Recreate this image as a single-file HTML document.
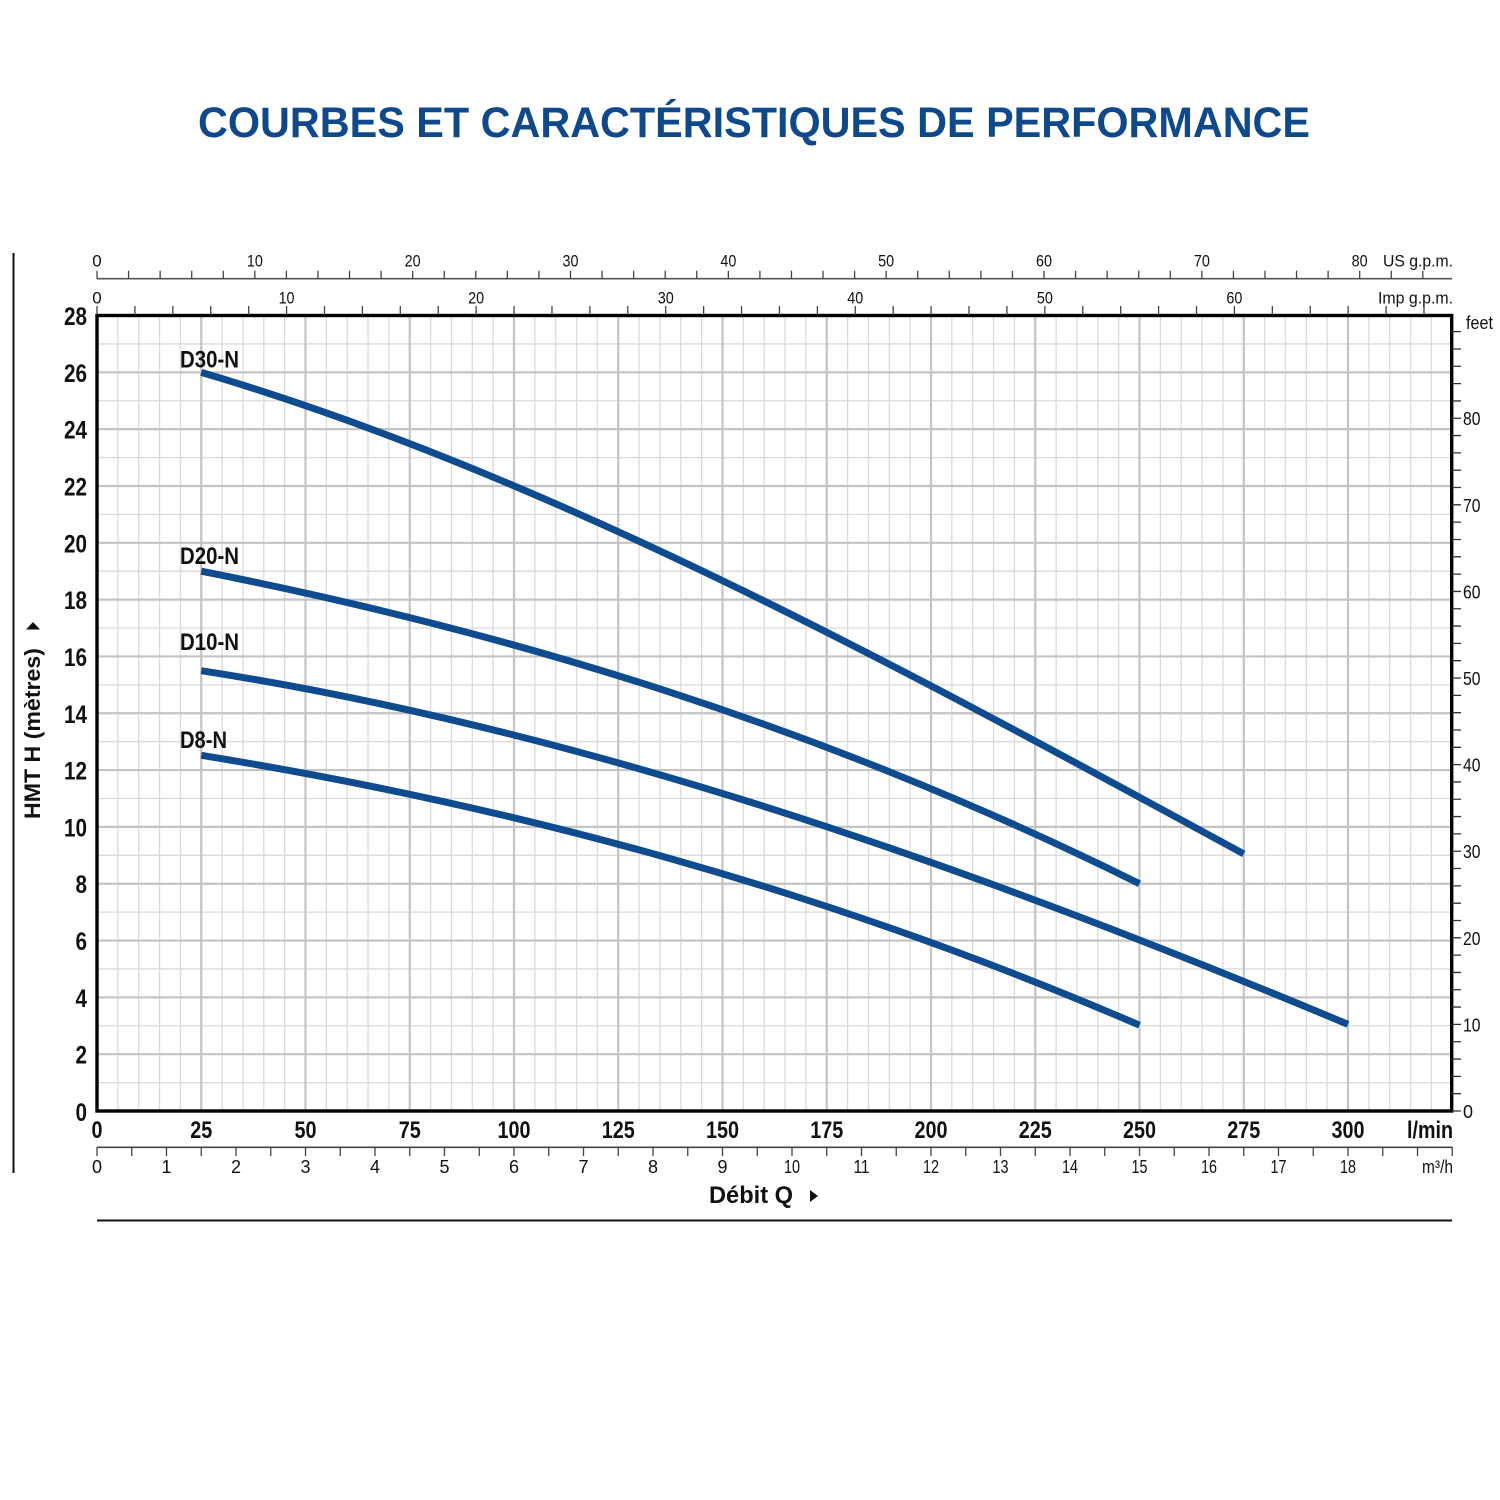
<!DOCTYPE html>
<html><head><meta charset="utf-8"><style>
html,body{margin:0;padding:0;background:#fff;}
svg{display:block;}
text{font-family:"Liberation Sans",sans-serif;}
</style></head><body>
<svg width="1500" height="1500" viewBox="0 0 1500 1500" xmlns="http://www.w3.org/2000/svg">
<rect width="1500" height="1500" fill="#fff"/>
<text x="198" y="137" font-size="43" font-weight="bold" fill="#10498b" textLength="1112" lengthAdjust="spacingAndGlyphs">COURBES ET CARACTÉRISTIQUES DE PERFORMANCE</text>

<line x1="13.5" y1="253" x2="13.5" y2="1173" stroke="#111" stroke-width="2"/>

<!-- minor grid -->
<path fill="none" stroke="#dadada" stroke-width="1.3" d="
M117.85 316V1110M138.7 316V1110M159.55 316V1110M180.4 316V1110
M222.1 316V1110M242.95 316V1110M263.8 316V1110M284.65 316V1110
M326.35 316V1110M347.2 316V1110M368.05 316V1110M388.9 316V1110
M430.6 316V1110M451.45 316V1110M472.3 316V1110M493.15 316V1110
M534.85 316V1110M555.7 316V1110M576.55 316V1110M597.4 316V1110
M639.1 316V1110M659.95 316V1110M680.8 316V1110M701.65 316V1110
M743.35 316V1110M764.2 316V1110M785.05 316V1110M805.9 316V1110
M847.6 316V1110M868.45 316V1110M889.3 316V1110M910.15 316V1110
M951.85 316V1110M972.7 316V1110M993.55 316V1110M1014.4 316V1110
M1056.1 316V1110M1076.95 316V1110M1097.8 316V1110M1118.65 316V1110
M1160.35 316V1110M1181.2 316V1110M1202.05 316V1110M1222.9 316V1110
M1264.6 316V1110M1285.45 316V1110M1306.3 316V1110M1327.15 316V1110
M1368.85 316V1110M1389.7 316V1110M1410.55 316V1110M1431.4 316V1110
M98 1082.59H1451M98 1025.77H1451M98 968.95H1451M98 912.13H1451M98 855.31H1451
M98 798.49H1451M98 741.67H1451M98 684.85H1451M98 628.03H1451M98 571.21H1451
M98 514.39H1451M98 457.57H1451M98 400.75H1451M98 343.93H1451"/>
<!-- major grid -->
<path fill="none" stroke="#c4c4c4" stroke-width="2.2" d="
M201.25 316V1110M305.5 316V1110M409.75 316V1110M514 316V1110M618.25 316V1110
M722.5 316V1110M826.75 316V1110M931 316V1110M1035.25 316V1110M1139.5 316V1110
M1243.75 316V1110M1348 316V1110
M98 1054.18H1451M98 997.36H1451M98 940.54H1451M98 883.72H1451M98 826.9H1451
M98 770.08H1451M98 713.26H1451M98 656.44H1451M98 599.62H1451M98 542.8H1451
M98 485.98H1451M98 429.16H1451M98 372.34H1451"/>

<!-- frame -->
<rect x="97" y="315.5" width="1354.7" height="795.5" fill="none" stroke="#000" stroke-width="3.4"/>

<!-- curves -->
<g fill="none" stroke="#0f4b8f" stroke-width="7">
<path d="M201.25 372.34 C548.75 474.9 896.25 664.82 1243.75 853.89"/>
<path d="M201.25 571.21 C514 632.77 826.75 728.4 1139.5 883.72"/>
<path d="M201.25 670.65 C583.5 730.22 965.75 864.2 1348 1024.35"/>
<path d="M201.25 755.31 C514 806.08 826.75 890.06 1139.5 1025.2"/>
</g>
<g font-size="24" font-weight="bold" fill="#111">
<text x="180" y="367.5" textLength="59" lengthAdjust="spacingAndGlyphs">D30-N</text>
<text x="180" y="564" textLength="59" lengthAdjust="spacingAndGlyphs">D20-N</text>
<text x="180" y="650" textLength="59" lengthAdjust="spacingAndGlyphs">D10-N</text>
<text x="180" y="748" textLength="47" lengthAdjust="spacingAndGlyphs">D8-N</text>
</g>

<!-- left y labels -->
<g font-size="25" font-weight="bold" fill="#111" text-anchor="end">
<text x="87" y="1121" textLength="11.5" lengthAdjust="spacingAndGlyphs">0</text>
<text x="87" y="1063.7" textLength="11.5" lengthAdjust="spacingAndGlyphs">2</text>
<text x="87" y="1006.9" textLength="11.5" lengthAdjust="spacingAndGlyphs">4</text>
<text x="87" y="950" textLength="11.5" lengthAdjust="spacingAndGlyphs">6</text>
<text x="87" y="893.2" textLength="11.5" lengthAdjust="spacingAndGlyphs">8</text>
<text x="87" y="836.4" textLength="23" lengthAdjust="spacingAndGlyphs">10</text>
<text x="87" y="779.6" textLength="23" lengthAdjust="spacingAndGlyphs">12</text>
<text x="87" y="722.8" textLength="23" lengthAdjust="spacingAndGlyphs">14</text>
<text x="87" y="665.9" textLength="23" lengthAdjust="spacingAndGlyphs">16</text>
<text x="87" y="609.1" textLength="23" lengthAdjust="spacingAndGlyphs">18</text>
<text x="87" y="552.3" textLength="23" lengthAdjust="spacingAndGlyphs">20</text>
<text x="87" y="495.5" textLength="23" lengthAdjust="spacingAndGlyphs">22</text>
<text x="87" y="438.7" textLength="23" lengthAdjust="spacingAndGlyphs">24</text>
<text x="87" y="381.8" textLength="23" lengthAdjust="spacingAndGlyphs">26</text>
<text x="87" y="325" textLength="23" lengthAdjust="spacingAndGlyphs">28</text>
</g>
<text transform="translate(40,733.5) rotate(-90)" x="0" y="0" text-anchor="middle" font-size="22" font-weight="bold" fill="#111" textLength="171" lengthAdjust="spacingAndGlyphs">HMT H (mètres)</text>
<polygon points="26,629.5 40,629.5 33,622" fill="#111"/>

<!-- bottom l/min labels -->
<g font-size="24" font-weight="bold" fill="#111" text-anchor="middle">
<text x="97" y="1138" textLength="11" lengthAdjust="spacingAndGlyphs">0</text>
<text x="201.25" y="1138" textLength="22" lengthAdjust="spacingAndGlyphs">25</text>
<text x="305.5" y="1138" textLength="22" lengthAdjust="spacingAndGlyphs">50</text>
<text x="409.75" y="1138" textLength="22" lengthAdjust="spacingAndGlyphs">75</text>
<text x="514" y="1138" textLength="33" lengthAdjust="spacingAndGlyphs">100</text>
<text x="618.25" y="1138" textLength="33" lengthAdjust="spacingAndGlyphs">125</text>
<text x="722.5" y="1138" textLength="33" lengthAdjust="spacingAndGlyphs">150</text>
<text x="826.75" y="1138" textLength="33" lengthAdjust="spacingAndGlyphs">175</text>
<text x="931" y="1138" textLength="33" lengthAdjust="spacingAndGlyphs">200</text>
<text x="1035.25" y="1138" textLength="33" lengthAdjust="spacingAndGlyphs">225</text>
<text x="1139.5" y="1138" textLength="33" lengthAdjust="spacingAndGlyphs">250</text>
<text x="1243.75" y="1138" textLength="33" lengthAdjust="spacingAndGlyphs">275</text>
<text x="1348" y="1138" textLength="33" lengthAdjust="spacingAndGlyphs">300</text>
<text x="1430" y="1138" textLength="46" lengthAdjust="spacingAndGlyphs">l/min</text>
</g>

<!-- m3/h axis -->
<line x1="97" y1="1147.3" x2="1452.5" y2="1147.3" stroke="#444" stroke-width="1.6"/>
<line x1="96.35" y1="1151.5" x2="1453" y2="1151.5" stroke="#444" stroke-width="9" stroke-dasharray="1.3 33.45"/>
<g font-size="18" fill="#111" text-anchor="middle">
<text x="97" y="1173">0</text><text x="166.5" y="1173">1</text><text x="236" y="1173">2</text>
<text x="305.5" y="1173">3</text><text x="375" y="1173">4</text><text x="444.5" y="1173">5</text>
<text x="514" y="1173">6</text><text x="583.5" y="1173">7</text><text x="653" y="1173">8</text>
<text x="722.5" y="1173">9</text>
<text x="792" y="1173" textLength="16" lengthAdjust="spacingAndGlyphs">10</text>
<text x="861.5" y="1173" textLength="16" lengthAdjust="spacingAndGlyphs">11</text>
<text x="931" y="1173" textLength="16" lengthAdjust="spacingAndGlyphs">12</text>
<text x="1000.5" y="1173" textLength="16" lengthAdjust="spacingAndGlyphs">13</text>
<text x="1070" y="1173" textLength="16" lengthAdjust="spacingAndGlyphs">14</text>
<text x="1139.5" y="1173" textLength="16" lengthAdjust="spacingAndGlyphs">15</text>
<text x="1209" y="1173" textLength="16" lengthAdjust="spacingAndGlyphs">16</text>
<text x="1278.5" y="1173" textLength="16" lengthAdjust="spacingAndGlyphs">17</text>
<text x="1348" y="1173" textLength="16" lengthAdjust="spacingAndGlyphs">18</text>
<text x="1437.5" y="1173" textLength="31" lengthAdjust="spacingAndGlyphs">m³/h</text>
</g>

<text x="709" y="1203" font-size="24" font-weight="bold" fill="#111" textLength="84" lengthAdjust="spacingAndGlyphs">Débit Q</text>
<polygon points="810,1190 810,1202 818,1196" fill="#111"/>
<line x1="97" y1="1220.5" x2="1452" y2="1220.5" stroke="#111" stroke-width="2"/>

<!-- top US gpm axis -->
<line x1="97" y1="278.7" x2="1452" y2="278.7" stroke="#555" stroke-width="1.6"/>
<line x1="96.35" y1="274.7" x2="1424" y2="274.7" stroke="#444" stroke-width="8" stroke-dasharray="1.3 30.267"/>
<g font-size="17" fill="#111" text-anchor="middle">
<text x="97" y="266.7">0</text>
<text x="254.84" y="266.7" textLength="16" lengthAdjust="spacingAndGlyphs">10</text>
<text x="412.67" y="266.7" textLength="16" lengthAdjust="spacingAndGlyphs">20</text>
<text x="570.51" y="266.7" textLength="16" lengthAdjust="spacingAndGlyphs">30</text>
<text x="728.34" y="266.7" textLength="16" lengthAdjust="spacingAndGlyphs">40</text>
<text x="886.18" y="266.7" textLength="16" lengthAdjust="spacingAndGlyphs">50</text>
<text x="1044.01" y="266.7" textLength="16" lengthAdjust="spacingAndGlyphs">60</text>
<text x="1201.85" y="266.7" textLength="16" lengthAdjust="spacingAndGlyphs">70</text>
<text x="1359.68" y="266.7" textLength="16" lengthAdjust="spacingAndGlyphs">80</text>
<text x="1418" y="266.7" textLength="70" lengthAdjust="spacingAndGlyphs">US g.p.m.</text>
</g>

<!-- top Imp gpm axis -->
<line x1="96.35" y1="310.5" x2="1425" y2="310.5" stroke="#444" stroke-width="9" stroke-dasharray="1.3 36.614"/>
<g font-size="17" fill="#111" text-anchor="middle">
<text x="97" y="303.3">0</text>
<text x="286.57" y="303.3" textLength="16" lengthAdjust="spacingAndGlyphs">10</text>
<text x="476.14" y="303.3" textLength="16" lengthAdjust="spacingAndGlyphs">20</text>
<text x="665.71" y="303.3" textLength="16" lengthAdjust="spacingAndGlyphs">30</text>
<text x="855.28" y="303.3" textLength="16" lengthAdjust="spacingAndGlyphs">40</text>
<text x="1044.85" y="303.3" textLength="16" lengthAdjust="spacingAndGlyphs">50</text>
<text x="1234.42" y="303.3" textLength="16" lengthAdjust="spacingAndGlyphs">60</text>
<text x="1415.5" y="303.3" textLength="75" lengthAdjust="spacingAndGlyphs">Imp g.p.m.</text>
</g>

<!-- right feet axis -->
<line x1="1456.5" y1="1111.65" x2="1456.5" y2="328" stroke="#333" stroke-width="9" stroke-dasharray="1.3 16.019"/>
<g font-size="18" fill="#111">
<text x="1463" y="1118">0</text>
<text x="1463" y="1031.4" textLength="17.5" lengthAdjust="spacingAndGlyphs">10</text>
<text x="1463" y="944.8" textLength="17.5" lengthAdjust="spacingAndGlyphs">20</text>
<text x="1463" y="858.2" textLength="17.5" lengthAdjust="spacingAndGlyphs">30</text>
<text x="1463" y="771.6" textLength="17.5" lengthAdjust="spacingAndGlyphs">40</text>
<text x="1463" y="685" textLength="17.5" lengthAdjust="spacingAndGlyphs">50</text>
<text x="1463" y="598.4" textLength="17.5" lengthAdjust="spacingAndGlyphs">60</text>
<text x="1463" y="511.8" textLength="17.5" lengthAdjust="spacingAndGlyphs">70</text>
<text x="1463" y="425.2" textLength="17.5" lengthAdjust="spacingAndGlyphs">80</text>
<text x="1466" y="329" textLength="27" lengthAdjust="spacingAndGlyphs">feet</text>
</g>
</svg>
</body></html>
